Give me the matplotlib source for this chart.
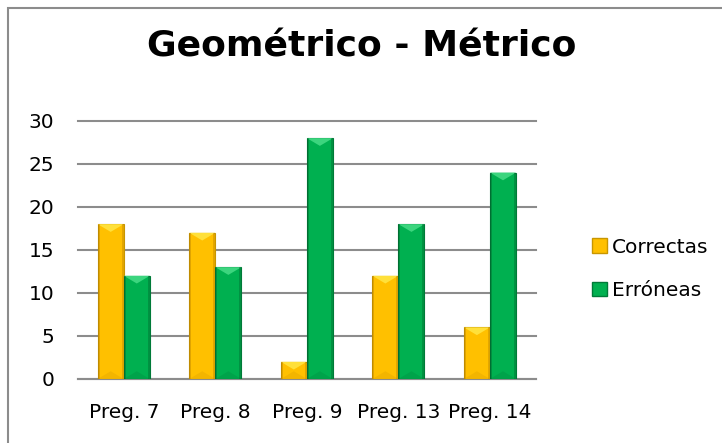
"""Geométrico - Métrico bar chart."""
import matplotlib.pyplot as plt
from matplotlib.patches import Patch, Polygon, Rectangle
import numpy as np

# Data
categories = ['Preg. 7', 'Preg. 8', 'Preg. 9', 'Preg. 13', 'Preg. 14']
correctas = [18, 17, 2, 12, 6]
erroneas = [12, 13, 28, 18, 24]
y_ticks = [0, 5, 10, 15, 20, 25, 30]

yellow = '#FFC000'
yellow_edge = '#C89600'
green = '#00B050'
green_edge = '#007A38'

plt.rcParams['font.family'] = ['DejaVu Sans']

fig = plt.figure(figsize=(7.22, 4.43), dpi=100)
ax = fig.add_axes([0.108, 0.1445, 0.634, 0.5825])

x = np.arange(len(categories))
width = 0.285
bars_c = ax.bar(x - width / 2, correctas, width, color=yellow,
                edgecolor=yellow_edge, linewidth=0.8, zorder=3)
bars_e = ax.bar(x + width / 2, erroneas, width, color=green,
                edgecolor=green_edge, linewidth=0.8, zorder=3)


def add_bevel(bars, light, dark):
    """Rough bevel effect: light triangle on top, darker sides"""
    for bar in bars:
        x0, y0 = bar.get_x(), bar.get_y()
        w, h = bar.get_width(), bar.get_height()
        d = min(0.9, h / 2)
        ax.add_patch(Polygon([[x0, y0 + h], [x0 + w, y0 + h],
                              [x0 + w / 2, y0 + h - d]], closed=True,
                             facecolor=light, edgecolor='none', zorder=4))
        ax.add_patch(Polygon([[x0, y0], [x0 + w, y0],
                              [x0 + w / 2, y0 + d]], closed=True,
                             facecolor=dark, edgecolor='none', alpha=0.15,
                             zorder=4))
        ax.add_patch(Rectangle((x0, y0), w * 0.08, h, facecolor=dark,
                               edgecolor='none', alpha=0.35, zorder=4))
        ax.add_patch(Rectangle((x0 + w * 0.92, y0), w * 0.08, h,
                               facecolor=dark, edgecolor='none', alpha=0.35,
                               zorder=4))


add_bevel(bars_c, '#FFE03A', '#B07800')
add_bevel(bars_e, '#3CD57E', '#005A28')

ax.set_xlim(-0.5, len(categories) - 0.5)
ax.set_ylim(0, 30)
ax.set_yticks(y_ticks)
ax.set_xticks(x)
ax.set_xticklabels(categories, fontsize=14.5)
ax.tick_params(axis='y', length=0, pad=17, labelsize=14.5)
ax.tick_params(axis='x', length=0, pad=17)
ax.yaxis.grid(True, color='#8C8C8C', linewidth=1.5, zorder=0)
ax.set_axisbelow(True)
for line in ax.get_ygridlines():
    line.set_clip_on(False)
for side in ['left', 'right', 'top']:
    ax.spines[side].set_visible(False)
ax.spines['bottom'].set_color('#8C8C8C')
ax.spines['bottom'].set_linewidth(1.5)

fig.text(0.501, 0.895, 'Geométrico - Métrico', ha='center', va='center',
         fontsize=26, fontweight='bold')

handles = [Patch(facecolor=yellow, edgecolor=yellow_edge, label='Correctas'),
           Patch(facecolor=green, edgecolor=green_edge, label='Erróneas')]
fig.legend(handles=handles, loc='center left', bbox_to_anchor=(0.795, 0.393),
           frameon=False, fontsize=14.5, handlelength=0.75, handleheight=0.75,
           handletextpad=0.25, labelspacing=1.2)

# Outer chart frame
fig.add_artist(Rectangle((8 / 722, -0.1), 1.2, 1 - 8 / 443 + 0.1,
                         transform=fig.transFigure, fill=False,
                         edgecolor='#8C8C8C', linewidth=1.5))

fig.savefig('out.png', dpi=100)
